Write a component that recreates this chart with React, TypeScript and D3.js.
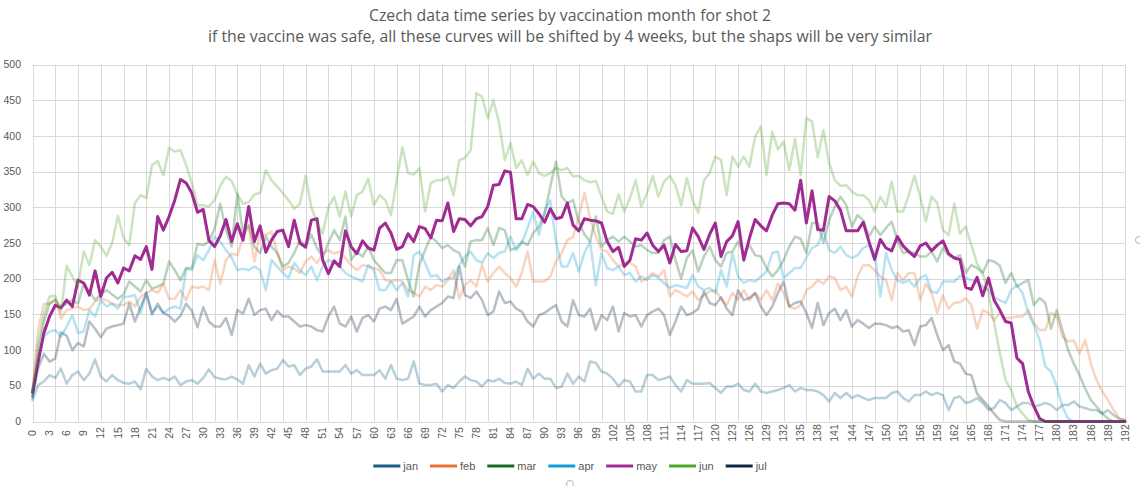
import * as d3 from "d3";
import { useRef, useEffect } from "react";

// weeks since shot 2 (category axis)
const weeks = d3.range(0, 193);

// values, one per week
const jan = [
  30, 51, 56, 65, 61, 74, 53, 65, 70, 58, 67, 87, 63, 56, 65, 58, 54, 53, 56, 45,
  74, 63, 58, 61, 58, 63, 51, 56, 58, 53, 61, 73, 62, 60, 59, 63, 59, 53, 79, 63,
  81, 67, 72, 74, 86, 77, 79, 65, 74, 77, 87, 70, 70, 70, 70, 79, 67, 72, 65, 65,
  65, 72, 60, 79, 60, 58, 60, 84, 53, 51, 51, 53, 42, 51, 47, 56, 63, 58, 56, 49,
  58, 56, 60, 54, 53, 56, 51, 74, 60, 67, 60, 60, 47, 49, 67, 53, 63, 56, 84, 82,
  70, 67, 60, 49, 58, 56, 42, 42, 65, 65, 58, 60, 63, 51, 42, 58, 53, 53, 53, 54,
  47, 40, 49, 49, 53, 44, 42, 53, 42, 40, 42, 44, 47, 51, 42, 47, 44, 44, 42, 37,
  28, 40, 33, 40, 33, 37, 33, 30, 33, 33, 33, 40, 42, 33, 28, 37, 37, 42, 37, 40,
  37, 16, 33, 35, 26, 28, 33, 26, 16, 19, 30, 26, 16, 21, 26, 26, 21, 23, 26, 23,
  16, 23, 23, 28, 21, 19, 16, 16, 11, 16, 9, 4, 2,
];
const feb = [
  44, 128, 165, 165, 172, 144, 156, 158, 161, 156, 158, 168, 172, 170, 165, 163, 163, 168, 161, 175,
  180, 184, 180, 193, 172, 172, 184, 170, 189, 187, 189, 184, 226, 193, 226, 235, 233, 257, 273, 224,
  264, 261, 266, 238, 212, 217, 214, 208, 224, 231, 222, 235, 240, 235, 238, 229, 219, 212, 219, 217,
  215, 212, 198, 196, 198, 196, 184, 180, 175, 189, 184, 191, 189, 198, 212, 172, 191, 198, 189, 219,
  196, 208, 217, 208, 201, 189, 208, 238, 196, 196, 196, 203, 224, 236, 254, 259, 287, 320, 285, 259,
  240, 238, 226, 217, 222, 222, 217, 196, 201, 208, 203, 212, 175, 184, 180, 175, 182, 170, 177, 182,
  184, 172, 163, 180, 170, 184, 170, 180, 170, 184, 170, 193, 180, 161, 158, 163, 184, 189, 198, 193,
  203, 201, 184, 189, 175, 203, 219, 219, 212, 203, 198, 170, 208, 198, 208, 208, 170, 193, 180, 152,
  177, 158, 166, 167, 173, 163, 130, 156, 152, 142, 152, 145, 145, 147, 147, 156, 138, 128, 128, 152,
  147, 119, 112, 114, 95, 114, 81, 58, 42, 30, 16, 4, 2,
];
const mar = [
  35, 95, 140, 165, 170, 160, 165, 170, 165, 193, 182, 170, 178, 184, 178, 172, 178, 196, 189, 182,
  198, 186, 189, 193, 224, 212, 198, 215, 215, 249, 247, 252, 270, 305, 268, 245, 319, 263, 275, 245,
  236, 259, 245, 236, 217, 222, 236, 254, 245, 262, 243, 230, 250, 268, 254, 287, 226, 238, 231, 245,
  226, 217, 208, 208, 226, 226, 198, 175, 220, 240, 259, 252, 243, 247, 240, 236, 217, 252, 254, 254,
  271, 247, 271, 268, 240, 243, 252, 247, 264, 273, 291, 329, 364, 315, 306, 310, 280, 262, 252, 287,
  245, 254, 259, 252, 259, 252, 245, 247, 240, 236, 236, 254, 259, 226, 200, 229, 240, 210, 231, 245,
  226, 217, 236, 238, 252, 236, 247, 233, 231, 215, 203, 212, 226, 245, 259, 256, 236, 278, 278, 250,
  282, 301, 315, 303, 273, 289, 282, 259, 273, 261, 271, 280, 254, 236, 238, 236, 231, 231, 238, 224,
  243, 233, 229, 233, 208, 219, 215, 208, 226, 224, 218, 194, 208, 189, 194, 198, 163, 173, 166, 130,
  156, 128, 100, 81, 65, 46, 30, 21, 11, 4, 0, 0, 0,
];
const apr = [
  32, 86, 119, 126, 128, 119, 133, 149, 124, 126, 156, 147, 170, 161, 165, 158, 174, 175, 177, 152,
  180, 152, 161, 152, 158, 161, 158, 214, 212, 233, 226, 240, 259, 252, 240, 230, 212, 214, 212, 217,
  212, 184, 226, 217, 208, 201, 222, 212, 205, 217, 198, 217, 226, 222, 217, 208, 203, 200, 196, 219,
  212, 184, 184, 196, 184, 194, 175, 233, 238, 222, 203, 205, 196, 201, 201, 219, 231, 238, 226, 222,
  236, 229, 236, 238, 259, 240, 250, 271, 294, 261, 294, 310, 252, 217, 217, 236, 210, 236, 252, 191,
  236, 215, 212, 217, 205, 208, 196, 203, 198, 205, 201, 194, 187, 191, 189, 187, 205, 189, 184, 187,
  180, 212, 189, 236, 203, 194, 198, 196, 203, 210, 236, 238, 201, 208, 215, 215, 229, 243, 247, 268,
  240, 236, 245, 233, 229, 233, 243, 247, 236, 175, 236, 212, 198, 194, 198, 189, 201, 205, 182, 180,
  196, 196, 196, 204, 201, 198, 196, 189, 184, 173, 170, 166, 184, 191, 180, 152, 135, 114, 77, 70,
  49, 21, 4, 0, 0, 0, 0, 0, 0, 0, 0, 0, 0,
];
const may = [
  41, 84, 124, 147, 163, 159, 170, 161, 198, 194, 177, 211, 175, 201, 209, 194, 215, 211, 232, 227,
  245, 213, 287, 268, 287, 310, 339, 334, 320, 293, 297, 254, 245, 260, 283, 252, 277, 254, 301, 252,
  274, 237, 254, 266, 268, 245, 282, 250, 244, 282, 284, 226, 207, 225, 217, 267, 245, 235, 253, 243,
  240, 271, 278, 264, 241, 245, 263, 252, 273, 270, 257, 282, 281, 306, 266, 284, 283, 274, 284, 287,
  301, 331, 332, 351, 349, 284, 284, 304, 301, 291, 279, 298, 284, 286, 306, 275, 267, 284, 282, 281,
  278, 252, 238, 244, 217, 226, 256, 254, 264, 247, 238, 247, 222, 248, 238, 239, 271, 259, 241, 262,
  278, 231, 252, 260, 280, 226, 257, 283, 274, 267, 289, 305, 306, 305, 296, 338, 278, 323, 269, 268,
  315, 309, 296, 267, 267, 267, 279, 252, 227, 255, 243, 239, 259, 246, 238, 231, 246, 250, 239, 247,
  253, 235, 229, 227, 188, 185, 202, 176, 201, 170, 156, 140, 138, 89, 81, 42, 21, 4, 0, 0,
  0, 0, 0, 0, 0, 0, 0, 0, 0, 0, 0, 0, 0,
];
const jun = [
  40, 110, 150, 175, 176, 152, 218, 203, 190, 238, 219, 254, 245, 232, 250, 288, 257, 247, 306, 317,
  313, 359, 365, 345, 383, 378, 380, 359, 334, 303, 303, 301, 310, 330, 343, 337, 318, 305, 307, 318,
  320, 352, 338, 329, 320, 310, 298, 305, 344, 300, 278, 263, 300, 315, 287, 322, 287, 317, 322, 340,
  303, 317, 310, 289, 338, 384, 348, 346, 355, 294, 334, 338, 338, 343, 317, 366, 369, 380, 460, 455,
  425, 450, 418, 366, 390, 355, 366, 345, 364, 348, 344, 348, 355, 352, 355, 343, 344, 338, 335, 337,
  315, 294, 291, 318, 294, 313, 338, 301, 320, 344, 315, 336, 344, 331, 303, 341, 310, 292, 338, 348,
  371, 366, 317, 371, 357, 371, 357, 399, 413, 345, 406, 381, 392, 352, 396, 345, 425, 420, 370, 408,
  362, 338, 330, 331, 322, 317, 317, 310, 294, 315, 301, 336, 294, 294, 317, 344, 315, 280, 315, 306,
  268, 261, 305, 263, 273, 247, 221, 208, 180, 138, 96, 58, 44, 21, 11, 2, 0, 0, 0, 0,
  0, 0, 0, 0, 0, 0, 0, 0, 0, 0, 0, 0, 0,
];
const jul = [
  35, 75, 95, 84, 88, 125, 120, 100, 110, 105, 140, 130, 118, 130, 133, 135, 137, 165, 140, 160,
  180, 150, 165, 152, 148, 140, 148, 165, 155, 132, 160, 140, 133, 133, 145, 121, 156, 151, 172, 149,
  156, 158, 142, 155, 147, 147, 140, 133, 135, 133, 128, 126, 147, 161, 137, 133, 147, 126, 145, 149,
  140, 158, 161, 156, 172, 137, 142, 147, 161, 147, 156, 161, 166, 175, 173, 217, 177, 173, 182, 170,
  149, 154, 182, 166, 168, 158, 154, 140, 133, 149, 152, 158, 163, 140, 133, 170, 149, 147, 158, 128,
  149, 142, 161, 126, 152, 147, 149, 133, 149, 154, 158, 149, 121, 140, 161, 149, 152, 158, 182, 166,
  163, 174, 158, 149, 184, 170, 173, 180, 161, 149, 161, 180, 196, 161, 166, 168, 152, 131, 166, 135,
  152, 158, 142, 156, 133, 142, 137, 131, 137, 137, 135, 131, 133, 126, 128, 107, 133, 135, 145, 121,
  100, 107, 84, 81, 67, 65, 39, 30, 21, 11, 2, 0, 0, 0, 0, 0, 0, 0, 0, 0,
  0, 0, 0, 0, 0, 0, 0, 0, 0, 0, 0, 0, 0,
];

const seriesNames = ["jan", "feb", "mar", "apr", "may", "jun", "jul"];
const seriesValues = [jan, feb, mar, apr, may, jun, jul];
const seriesColors = ["#156082", "#E97132", "#196B24", "#0F9ED5", "#A02B93", "#4EA72E", "#0E2841"];
const highlight = "may";

const yTicks = d3.range(0, 501, 50);
const titleLines = [
  "Czech data time series by vaccination month for shot 2",
  "if the vaccine was safe, all these curves will be shifted by 4 weeks, but the shaps will be very similar",
];

export default function App() {
  const svgRef = useRef<SVGSVGElement | null>(null);

  useEffect(() => {
    if (!svgRef.current) return;
    const W = 1140;
    const H = 486;
    const margin = { top: 64.5, right: 15, bottom: 64.5, left: 32.5 };
    const textColor = "#595959";
    const font = "'Liberation Sans', Arial, sans-serif";

    const svg = d3.select(svgRef.current);
    svg.selectAll("*").remove();

    const x = d3
      .scaleLinear()
      .domain([0, weeks[weeks.length - 1]])
      .range([margin.left, W - margin.right]);
    const y = d3.scaleLinear().domain([0, 500]).range([H - margin.bottom, margin.top]);

    svg.append("rect").attr("width", W).attr("height", H).attr("fill", "#fff");

    // title
    svg
      .append("g")
      .selectAll("text")
      .data(titleLines)
      .join("text")
      .attr("x", W / 2)
      .attr("y", (_, i) => 21 + i * 21)
      .attr("text-anchor", "middle")
      .attr("font-family", "'Open Sans', sans-serif")
      .attr("font-size", "15.8px")
      .attr("fill", textColor)
      .text((d) => d);

    // gridlines
    const grid = svg.append("g").attr("stroke", "#d9d9d9").attr("stroke-width", 1);
    grid
      .selectAll(".h")
      .data(yTicks)
      .join("line")
      .attr("x1", x.range()[0])
      .attr("x2", x.range()[1])
      .attr("y1", (d) => Math.round(y(d)) + 0.5)
      .attr("y2", (d) => Math.round(y(d)) + 0.5);
    grid
      .selectAll(".v")
      .data(weeks.filter((w) => w % 4 === 0))
      .join("line")
      .attr("x1", (d) => Math.round(x(d)) + 0.5)
      .attr("x2", (d) => Math.round(x(d)) + 0.5)
      .attr("y1", y(500))
      .attr("y2", y(0));

    // y labels
    svg
      .append("g")
      .selectAll("text")
      .data(yTicks)
      .join("text")
      .attr("x", 21)
      .attr("y", (d) => y(d))
      .attr("dy", "0.35em")
      .attr("text-anchor", "end")
      .attr("font-family", font)
      .attr("font-size", "10.5px")
      .attr("fill", textColor)
      .text((d) => d);

    // x labels, every 3rd week, rotated
    svg
      .append("g")
      .selectAll("text")
      .data(weeks.filter((w) => w % 3 === 0))
      .join("text")
      .attr("transform", (d) => `translate(${x(d)},433) rotate(-90)`)
      .attr("dy", "0.35em")
      .attr("text-anchor", "middle")
      .attr("font-family", font)
      .attr("font-size", "10.5px")
      .attr("fill", textColor)
      .text((d) => d);

    // lines
    const line = d3
      .line<number>()
      .x((_, i) => x(weeks[i]))
      .y((d) => y(d));

    svg
      .append("g")
      .selectAll("path")
      .data(seriesNames)
      .join("path")
      .attr("d", (_, i) => line(seriesValues[i]))
      .attr("fill", "none")
      .attr("stroke", (_, i) => seriesColors[i])
      .attr("stroke-opacity", (d) => (d === highlight ? 1 : 0.3))
      .attr("stroke-width", (d) => (d === highlight ? 3 : 2.5))
      .attr("stroke-linejoin", "round")
      .attr("stroke-linecap", "round");

    // legend
    const legend = svg.append("g").attr("font-family", font).attr("font-size", "11px");
    const items = legend
      .selectAll("g")
      .data(seriesNames)
      .join("g");
    items
      .append("line")
      .attr("x1", 0)
      .attr("x2", 27)
      .attr("stroke", (_, i) => seriesColors[i])
      .attr("stroke-width", 3);
    const labels = items
      .append("text")
      .attr("x", 30)
      .attr("dy", "0.35em")
      .attr("fill", textColor)
      .text((d) => d);

    const gap = 12;
    const widths = labels.nodes().map((n) => 30 + (n as SVGTextElement).getComputedTextLength() + gap);
    const total = d3.sum(widths) - gap;
    let cx = W / 2 - total / 2;
    items.attr("transform", (_, i) => {
      const t = `translate(${cx},466)`;
      cx += widths[i];
      return t;
    });

    // selection handles of the chart frame
    svg
      .append("g")
      .selectAll("circle")
      .data([
        [W - 1, 240],
        [W / 2, H - 2],
      ])
      .join("circle")
      .attr("cx", (d) => d[0])
      .attr("cy", (d) => d[1])
      .attr("r", 3.5)
      .attr("fill", "#fff")
      .attr("stroke", "#b3b3b3");
  }, []);

  return (
    <svg
      ref={svgRef}
      width={1140}
      height={486}
      style={{ position: "absolute", left: 0, top: 0, display: "block" }}
    ></svg>
  );
}
